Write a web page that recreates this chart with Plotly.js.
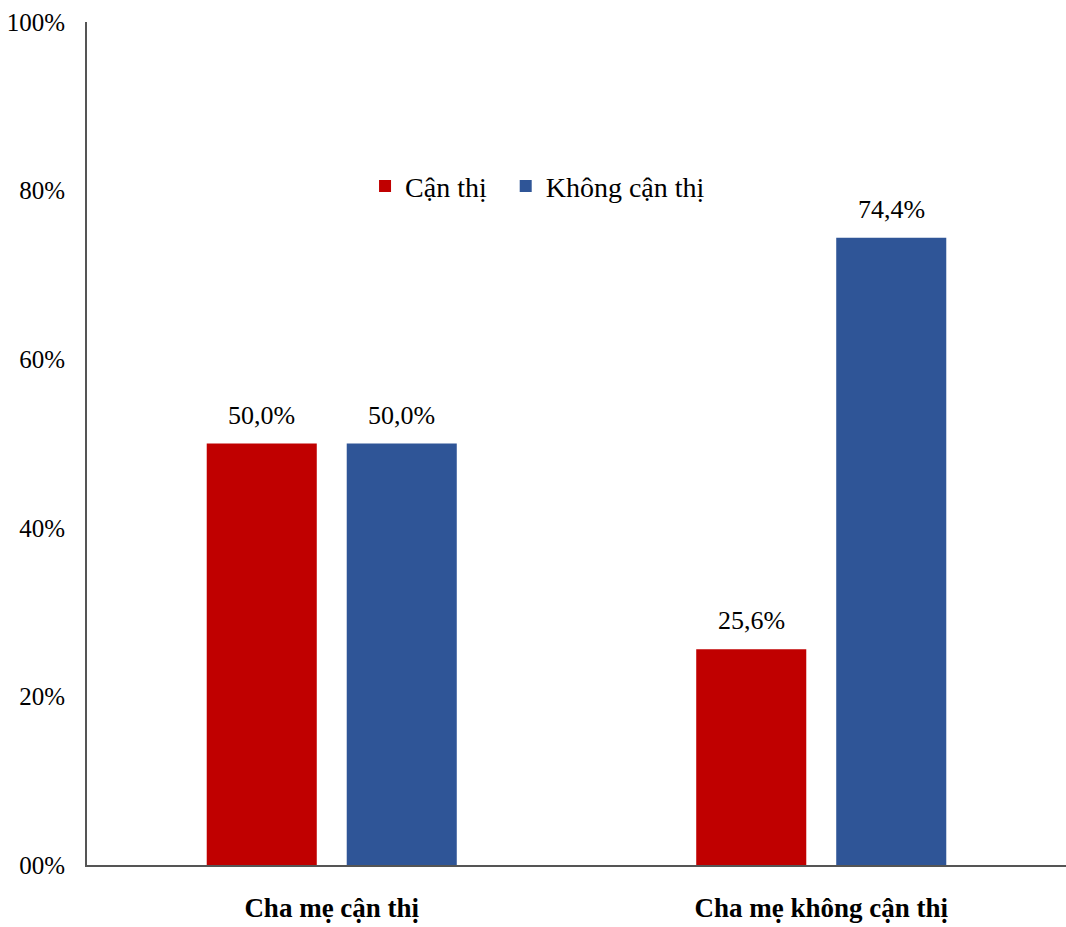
<!DOCTYPE html>
<html>
<head>
<meta charset="utf-8">
<script src="https://cdn.plot.ly/plotly-3.0.1.min.js"></script>
<style>html,body{margin:0;padding:0;background:#fff;}#chart{width:1066px;height:927px;}</style>
</head>
<body>
<div id="chart"></div>
<script>
const categories = ["Cha mẹ cận thị", "Cha mẹ không cận thị"];
const seriesNames = ["Cận thị", "Không cận thị"];
const canThi = [0.500, 0.256];
const khongCanThi = [0.500, 0.744];
const tickVals = [0, 0.2, 0.4, 0.6, 0.8, 1.0];
const tickText = ["00%", "20%", "40%", "60%", "80%", "100%"];
const colors = ["#C00000", "#2F5597"];

const fmt = v => (v * 100).toFixed(1).replace('.', ',') + '%';
const font = "Liberation Serif, Times New Roman, serif";
const seriesVals = [canThi, khongCanThi];
const NBSP = "\u00a0\u00a0";

const data = seriesNames.map((name, i) => ({
  type: 'bar', name: i === 0 ? name + NBSP : name, x: categories, y: seriesVals[i],
  marker: {color: colors[i]},
  hoverinfo: 'skip'
}));

// value labels placed above each bar (offset to the bar's slot in the group)
const groupShift = [-70, 70];
const annotations = [];
seriesVals.forEach((vals, i) => {
  vals.forEach((v, j) => {
    annotations.push({
      x: categories[j], y: v, xref: 'x', yref: 'y',
      text: fmt(v), showarrow: false,
      xanchor: 'center', yanchor: 'bottom',
      xshift: groupShift[i], yshift: 12,
      font: {family: font, size: 26, color: '#000'}
    });
  });
});

const layout = {
  width: 1066, height: 927,
  margin: {l: 87, r: 0, t: 22, b: 62, pad: 0},
  paper_bgcolor: '#fff', plot_bgcolor: '#fff',
  font: {family: font, color: '#000', size: 25},
  barmode: 'group', bargap: 0.428, bargroupgap: 0.214,
  showlegend: true,
  legend: {orientation: 'h', x: 0.284, y: 0.805, xanchor: 'left', yanchor: 'middle',
           font: {family: font, size: 28, color: '#000'}, itemwidth: 30,
           bgcolor: 'rgba(0,0,0,0)'},
  annotations: annotations,
  xaxis: {showline: true, linecolor: '#555', linewidth: 2, ticks: '', showgrid: false,
          tickfont: {family: font, size: 27, color: '#000', weight: 'bold'}, ticklabelstandoff: 18,
          fixedrange: true},
  yaxis: {range: [0, 1], showline: true, linecolor: '#555', linewidth: 2, ticks: '',
          showgrid: false, zeroline: false, tickvals: tickVals, ticktext: tickText,
          tickfont: {family: font, size: 25, color: '#000'}, ticklabelstandoff: 15,
          fixedrange: true}
};

Plotly.newPlot('chart', data, layout, {displayModeBar: false, staticPlot: true});
</script>
</body>
</html>
